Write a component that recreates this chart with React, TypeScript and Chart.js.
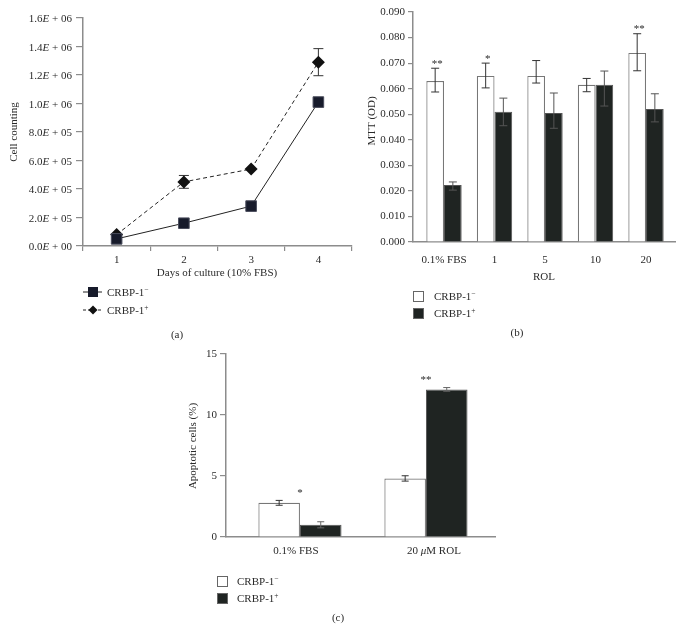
import React, { useEffect, useRef } from 'react';
import { Chart, registerables } from 'chart.js';
Chart.register(...registerables);

const CW = 682;
const CH = 631;
const FONT = '"Liberation Serif", "Times New Roman", serif';
const TXT = '#2a2a2a';
const AXIS = '#8c8c8c';
const DARK = '#1f2422';

// ---------- (a) cell counting ----------
const days = ['1', '2', '3', '4'];
const countNeg = [50000, 160000, 280000, 1010000];
const countNegErr = [0, 0, 0, 0];
const countPos = [80000, 450000, 540000, 1290000];
const countPosErr = [0, 45000, 0, 95000];
const countTicks = [0, 200000, 400000, 600000, 800000, 1000000, 1200000, 1400000, 1600000];

// ---------- (b) MTT ----------
const rolGroups = ['0.1% FBS', '1', '5', '10', '20'];
const mttNeg = [0.063, 0.065, 0.065, 0.0615, 0.074];
const mttNegUp = [0.005, 0.005, 0.006, 0.0025, 0.0075];
const mttNegDown = [0.0043, 0.0047, 0.0028, 0.0027, 0.007];
const mttPos = [0.0223, 0.051, 0.0505, 0.0615, 0.052];
const mttPosUp = [0.0012, 0.0053, 0.0078, 0.0054, 0.006];
const mttPosDown = [0.002, 0.0055, 0.006, 0.0083, 0.005];
const mttStars = ['**', '*', '', '', '**'];

// ---------- (c) apoptosis ----------
const apopGroups = ['0.1% FBS', '20 μM ROL'];
const apopNeg = [2.8, 4.8];
const apopNegErr = [0.2, 0.22];
const apopPos = [1.0, 12.1];
const apopPosErr = [0.25, 0.15];
const apopStars = ['*', '**'];

type Part = { t: string; it?: boolean; sup?: boolean };
const fnt = (size: number, it?: boolean) => `${it ? 'italic ' : ''}${size}px ${FONT}`;

function rich(ctx: CanvasRenderingContext2D, parts: Part[], x: number, y: number, size: number, align: 'left' | 'center' | 'right' = 'left') {
  ctx.save();
  ctx.fillStyle = TXT;
  ctx.textBaseline = 'alphabetic';
  ctx.textAlign = 'left';
  const widths = parts.map((p) => {
    ctx.font = fnt(p.sup ? size * 0.68 : size, p.it);
    return ctx.measureText(p.t).width;
  });
  const total = widths.reduce((a, b) => a + b, 0);
  let cx = align === 'left' ? x : align === 'center' ? x - total / 2 : x - total;
  parts.forEach((p, i) => {
    ctx.font = fnt(p.sup ? size * 0.68 : size, p.it);
    ctx.fillText(p.t, cx, p.sup ? y - size * 0.38 : y);
    cx += widths[i];
  });
  ctx.restore();
}

function text(ctx: CanvasRenderingContext2D, t: string, x: number, y: number, size: number, rot = false) {
  ctx.save();
  ctx.fillStyle = TXT;
  ctx.font = fnt(size);
  ctx.textAlign = 'center';
  ctx.textBaseline = 'middle';
  ctx.translate(x, y);
  if (rot) ctx.rotate(-Math.PI / 2);
  ctx.fillText(t, 0, 0);
  ctx.restore();
}

function star(ctx: CanvasRenderingContext2D, t: string, x: number, yc: number, size = 11) {
  if (!t) return;
  ctx.save();
  ctx.fillStyle = TXT;
  ctx.font = fnt(size);
  ctx.textAlign = 'center';
  ctx.textBaseline = 'alphabetic';
  ctx.fillText(t, x, yc + size * 0.5);
  ctx.restore();
}

const legendParts = (sign: string): Part[] => [{ t: 'CRBP-1' }, { t: sign, sup: true }];

function fmtE(v: number) {
  if (v === 0) return { m: '0.0', e: '00' };
  const e = Math.floor(Math.log10(v) + 1e-9);
  const m = (v / Math.pow(10, e)).toFixed(1);
  return { m, e: String(e).padStart(2, '0') };
}

const pts = (vals: number[]) => vals.map((v, i) => ({ x: i, y: v }));

function makeErr(id: string, hook: 'beforeDatasetsDraw' | 'afterDatasetsDraw') {
  return {
    id,
    [hook](chart: any) {
      const ctx = chart.ctx as CanvasRenderingContext2D;
      const ys = chart.scales.y;
      chart.data.datasets.forEach((ds: any, di: number) => {
        const up = ds.errUp;
        const dn = ds.errDown;
        if (!up) return;
        const meta = chart.getDatasetMeta(di);
        meta.data.forEach((el: any, i: number) => {
          if (!up[i] && !dn[i]) return;
          const v = ds.vals[i];
          const yt = ys.getPixelForValue(v + up[i]);
          const yb = ys.getPixelForValue(v - dn[i]);
          const hw = ds.capHalf || 4;
          ctx.save();
          ctx.strokeStyle = ds.errColor || '#333';
          ctx.lineWidth = 1;
          ctx.beginPath();
          ctx.moveTo(el.x, yt);
          ctx.lineTo(el.x, yb);
          ctx.moveTo(el.x - hw, yt);
          ctx.lineTo(el.x + hw, yt);
          ctx.moveTo(el.x - hw, yb);
          ctx.lineTo(el.x + hw, yb);
          ctx.stroke();
          ctx.restore();
        });
      });
    },
  };
}

const decorA = {
  id: 'decorA',
  afterDraw(chart: any) {
    const ctx = chart.ctx as CanvasRenderingContext2D;
    const ys = chart.scales.y;
    ys.ticks.forEach((t: any) => {
      const py = ys.getPixelForValue(t.value);
      const f = fmtE(t.value);
      rich(ctx, [{ t: f.m }, { t: 'E', it: true }, { t: ' + ' + f.e }], ys.right - 11, py + 4, 11, 'right');
    });
    text(ctx, 'Cell counting', 14, 132, 11, true);
    text(ctx, 'Days of culture (10% FBS)', 217, 273, 11);
    ctx.save();
    ctx.strokeStyle = '#222';
    ctx.lineWidth = 1;
    ctx.beginPath();
    ctx.moveTo(83, 292);
    ctx.lineTo(102, 292);
    ctx.stroke();
    ctx.fillStyle = '#171b2b';
    ctx.fillRect(88, 287, 10, 10);
    ctx.setLineDash([3, 2]);
    ctx.beginPath();
    ctx.moveTo(83, 310);
    ctx.lineTo(102, 310);
    ctx.stroke();
    ctx.setLineDash([]);
    ctx.fillStyle = '#111';
    ctx.beginPath();
    ctx.moveTo(93, 305.5);
    ctx.lineTo(97.5, 310);
    ctx.lineTo(93, 314.5);
    ctx.lineTo(88.5, 310);
    ctx.closePath();
    ctx.fill();
    ctx.restore();
    rich(ctx, legendParts('−'), 107, 296, 11);
    rich(ctx, legendParts('+'), 107, 314, 11);
    text(ctx, '(a)', 177, 335, 11);
  },
};

const decorB = {
  id: 'decorB',
  afterDraw(chart: any) {
    const ctx = chart.ctx as CanvasRenderingContext2D;
    const ys = chart.scales.y;
    const meta = chart.getDatasetMeta(0);
    meta.data.forEach((el: any, i: number) => {
      const yt = ys.getPixelForValue(mttNeg[i] + mttNegUp[i]);
      star(ctx, mttStars[i], el.x + 2, yt - 7);
    });
    text(ctx, 'MTT (OD)', 372, 121, 11, true);
    text(ctx, 'ROL', 544, 277, 11);
    ctx.save();
    ctx.strokeStyle = '#666';
    ctx.lineWidth = 1;
    ctx.fillStyle = '#fff';
    ctx.fillRect(413.5, 291.5, 10, 10);
    ctx.strokeRect(413.5, 291.5, 10, 10);
    ctx.fillStyle = DARK;
    ctx.fillRect(413.5, 308.5, 10, 10);
    ctx.strokeRect(413.5, 308.5, 10, 10);
    ctx.restore();
    rich(ctx, legendParts('−'), 434, 300, 11);
    rich(ctx, legendParts('+'), 434, 317, 11);
    text(ctx, '(b)', 517, 333, 11);
  },
};

const decorC = {
  id: 'decorC',
  afterDraw(chart: any) {
    const ctx = chart.ctx as CanvasRenderingContext2D;
    const ys = chart.scales.y;
    const xs = chart.scales.x;
    apopGroups.forEach((g, i) => {
      const px = xs.getPixelForValue(i);
      const parts: Part[] = [];
      g.split(/(μ)/).forEach((s) => {
        if (s) parts.push({ t: s, it: s === 'μ' });
      });
      rich(ctx, parts, px + (i === 0 ? -4 : 8), 554, 11, 'center');
      const top = Math.max(apopNeg[i] + apopNegErr[i], apopPos[i] + apopPosErr[i]);
      star(ctx, apopStars[i], px, ys.getPixelForValue(top) - 10);
    });
    text(ctx, 'Apoptotic cells (%)', 193, 446, 11, true);
    ctx.save();
    ctx.strokeStyle = '#666';
    ctx.lineWidth = 1;
    ctx.fillStyle = '#fff';
    ctx.fillRect(217.5, 576.5, 10, 10);
    ctx.strokeRect(217.5, 576.5, 10, 10);
    ctx.fillStyle = DARK;
    ctx.fillRect(217.5, 593.5, 10, 10);
    ctx.strokeRect(217.5, 593.5, 10, 10);
    ctx.restore();
    rich(ctx, legendParts('−'), 237, 585, 11);
    rich(ctx, legendParts('+'), 237, 602, 11);
    text(ctx, '(c)', 338, 618, 11);
  },
};

const tickFont = { family: FONT, size: 11 };

function configA(): any {
  return {
    type: 'line',
    data: {
      labels: days,
      datasets: [
        {
          data: countNeg,
          vals: countNeg,
          borderColor: '#222',
          borderWidth: 1,
          pointStyle: 'rect',
          pointRadius: 7.5,
          pointBackgroundColor: '#171b2b',
          pointBorderColor: '#4a4d5c',
          pointBorderWidth: 1,
          errUp: countNegErr,
          errDown: countNegErr,
          capHalf: 5,
          tension: 0,
        },
        {
          data: countPos,
          vals: countPos,
          borderColor: '#222',
          borderWidth: 1,
          borderDash: [4, 3],
          pointStyle: 'rectRot',
          pointRadius: 6.5,
          pointBackgroundColor: '#111',
          pointBorderColor: '#111',
          pointBorderWidth: 0,
          errUp: countPosErr,
          errDown: countPosErr,
          capHalf: 5,
          tension: 0,
        },
      ],
    },
    options: {
      animation: false,
      responsive: false,
      events: [],
      layout: { padding: { left: 0, top: 18, right: CW - 352, bottom: CH - 246 - 40 } },
      plugins: { legend: { display: false }, tooltip: { enabled: false } },
      scales: {
        x: {
          type: 'category',
          offset: true,
          grid: { offset: true, drawOnChartArea: false, drawTicks: true, tickLength: 5, color: AXIS, lineWidth: 1.2 },
          border: { color: AXIS, width: 1.5 },
          ticks: { color: TXT, font: tickFont, padding: 3 },
          afterFit: (s: any) => { s.height = 40; },
        },
        y: {
          min: 0,
          max: 1600000,
          afterBuildTicks: (s: any) => { s.ticks = countTicks.map((v) => ({ value: v })); },
          ticks: { color: 'rgba(0,0,0,0)', font: tickFont, padding: 4, callback: (v: number) => { const f = fmtE(v); return f.m + 'E + ' + f.e; } },
          grid: { drawOnChartArea: false, drawTicks: true, tickLength: 7, color: AXIS, lineWidth: 1.2 },
          border: { color: AXIS, width: 1.5 },
          afterFit: (s: any) => { s.width = 83; },
        },
      },
    },
    plugins: [makeErr('errA', 'beforeDatasetsDraw'), decorA],
  };
}

function configB(): any {
  return {
    type: 'bar',
    data: {
      datasets: [
        {
          data: pts(mttNeg),
          vals: mttNeg,
          backgroundColor: '#ffffff',
          borderColor: '#777',
          borderWidth: 1.2,
          errUp: mttNegUp,
          errDown: mttNegDown,
          capHalf: 4,
          categoryPercentage: 0.7,
          barPercentage: 1,
        },
        {
          data: pts(mttPos),
          vals: mttPos,
          backgroundColor: DARK,
          borderColor: '#555',
          borderWidth: 1,
          errUp: mttPosUp,
          errDown: mttPosDown,
          errColor: '#555',
          capHalf: 4,
          categoryPercentage: 0.7,
          barPercentage: 1,
        },
      ],
    },
    options: {
      animation: false,
      responsive: false,
      events: [],
      layout: { padding: { left: 413 - 60, top: 12, right: CW - 675, bottom: CH - 242 - 40 } },
      plugins: { legend: { display: false }, tooltip: { enabled: false } },
      scales: {
        x: {
          type: 'linear',
          offset: false,
          min: -0.614,
          max: 4.574,
          grid: { display: false, offset: false },
          border: { color: AXIS, width: 1.5 },
          ticks: {
            stepSize: 1,
            includeBounds: false,
            color: TXT,
            font: tickFont,
            padding: 4,
            callback: (v: number) => rolGroups[v] ?? '',
          },
          afterFit: (s: any) => { s.height = 40; },
        },
        y: {
          min: 0,
          max: 0.09,
          ticks: { stepSize: 0.01, color: TXT, font: tickFont, padding: 3, callback: (v: number) => v.toFixed(3) },
          grid: { drawOnChartArea: false, drawTicks: true, tickLength: 5, color: AXIS, lineWidth: 1.2 },
          border: { color: AXIS, width: 1.5 },
          afterFit: (s: any) => { s.width = 60; },
        },
      },
    },
    plugins: [makeErr('errB', 'afterDatasetsDraw'), decorB],
  };
}

function configC(): any {
  return {
    type: 'bar',
    data: {
      datasets: [
        {
          data: pts(apopNeg),
          vals: apopNeg,
          backgroundColor: '#ffffff',
          borderColor: '#777',
          borderWidth: 1.2,
          errUp: apopNegErr,
          errDown: apopNegErr,
          capHalf: 3.5,
          categoryPercentage: 0.66,
          barPercentage: 1,
        },
        {
          data: pts(apopPos),
          vals: apopPos,
          backgroundColor: DARK,
          borderColor: '#555',
          borderWidth: 1,
          errUp: apopPosErr,
          errDown: apopPosErr,
          errColor: '#666',
          capHalf: 3.5,
          categoryPercentage: 0.66,
          barPercentage: 1,
        },
      ],
    },
    options: {
      animation: false,
      responsive: false,
      events: [],
      layout: { padding: { left: 226 - 60, top: 354, right: CW - 495, bottom: CH - 537 - 30 } },
      plugins: { legend: { display: false }, tooltip: { enabled: false } },
      scales: {
        x: {
          type: 'linear',
          offset: false,
          min: -0.587,
          max: 1.548,
          grid: { display: false, offset: false },
          border: { color: AXIS, width: 1.5 },
          ticks: { stepSize: 1, includeBounds: false, color: 'rgba(0,0,0,0)', font: tickFont, padding: 7, callback: (v: number) => apopGroups[v] ?? '' },
          afterFit: (s: any) => { s.height = 30; },
        },
        y: {
          min: 0,
          max: 15,
          ticks: { stepSize: 5, color: TXT, font: tickFont, padding: 3 },
          grid: { drawOnChartArea: false, drawTicks: true, tickLength: 6, color: AXIS, lineWidth: 1.2 },
          border: { color: AXIS, width: 1.5 },
          afterFit: (s: any) => { s.width = 60; },
        },
      },
    },
    plugins: [makeErr('errC', 'afterDatasetsDraw'), decorC],
  };
}

export default function App() {
  const a = useRef<HTMLCanvasElement>(null);
  const b = useRef<HTMLCanvasElement>(null);
  const c = useRef<HTMLCanvasElement>(null);
  useEffect(() => {
    const charts = [
      new Chart(a.current as HTMLCanvasElement, configA()),
      new Chart(b.current as HTMLCanvasElement, configB()),
      new Chart(c.current as HTMLCanvasElement, configC()),
    ];
    return () => charts.forEach((ch) => ch.destroy());
  }, []);
  const st: React.CSSProperties = { position: 'absolute', left: 0, top: 0, width: CW, height: CH };
  return (
    <div style={{ position: 'absolute', left: 0, top: 0, width: CW, height: CH, background: '#fff' }}>
      <canvas ref={a} width={CW} height={CH} style={st} />
      <canvas ref={b} width={CW} height={CH} style={st} />
      <canvas ref={c} width={CW} height={CH} style={st} />
    </div>
  );
}
